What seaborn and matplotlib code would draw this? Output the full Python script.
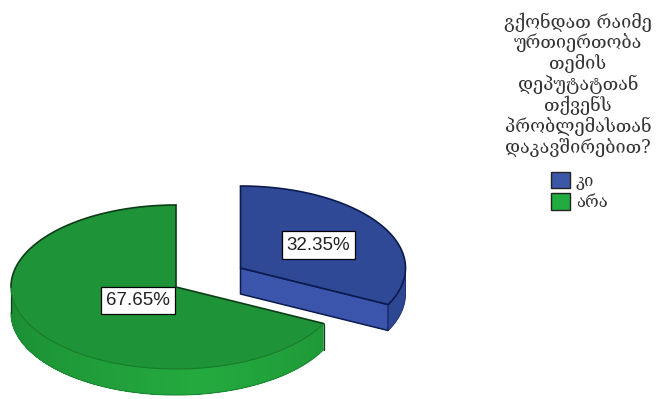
import matplotlib
matplotlib.use('Agg')
import matplotlib.pyplot as plt
import matplotlib.patches as mpatches
import numpy as np
import seaborn as sns

# მონაცემები
categories = ['კი', 'არა']
shares = [32.35, 67.65]
title_lines = ['გქონდათ რაიმე', 'ურთიერთობა', 'თემის', 'დეპუტატთან',
               'თქვენს', 'პრობლემასთან', 'დაკავშირებით?']

sns.set_theme(style='white')
plt.rcParams['font.family'] = ['DejaVu Serif']

RX, RY, DEPTH = 165, 82, 26
EDGE_BLUE = '#0c1a4d'
EDGE_GREEN = '#0c3d18'


def pt(cx, cy, ang, dz=0):
    # ang en grados, horario desde las 12
    a = np.radians(ang)
    return cx + RX * np.sin(a), cy - RY * np.cos(a) + dz


def arc(cx, cy, a0, a1, dz=0):
    t = np.linspace(a0, a1, 120)
    return pt(cx, cy, t, dz)


def blend(c0, c1, f):
    return tuple((1 - f) * np.array(matplotlib.colors.to_rgb(c0)) + f * np.array(matplotlib.colors.to_rgb(c1)))


fig = plt.figure(figsize=(6.62, 3.99), dpi=100)
ax = fig.add_axes([0, 0, 1, 1])
ax.set_xlim(0, 662)
ax.set_ylim(399, 0)
ax.axis('off')

split = shares[0] / sum(shares) * 360

# ── Porción verde ────────────────────────────────────────────────────
cx, cy = 176, 287
steps = np.linspace(split, 270, 60)
for i in range(len(steps) - 1):
    # cada tramo llega hasta el final para que no queden rayas
    x, y = arc(cx, cy, steps[i], 270)
    f = abs((steps[i] - 170) / 100)
    col = blend('#23aa3e', '#1b8a33', min(f, 1))
    ax.fill(np.r_[x, x[::-1]], np.r_[y, y[::-1] + DEPTH], color=col, lw=0, zorder=2)
x, y = arc(cx, cy, split, 270)
ax.plot(x, y + DEPTH, color='#1c8a34', lw=0.8, zorder=3)
x0, y0 = pt(cx, cy, split)
ax.plot([x0, x0], [y0, y0 + DEPTH], color=EDGE_GREEN, lw=0.9, zorder=3)
x2, y2 = pt(cx, cy, 270)
ax.plot([x2, x2], [y2, y2 + DEPTH], color=EDGE_GREEN, lw=0.9, zorder=3)

x, y = arc(cx, cy, split, 360)
ax.fill(np.r_[cx, x], np.r_[cy, y], color='#1f9337', lw=0, zorder=4)
ax.plot(*arc(cx, cy, split, 270), color='#1a7a2e', lw=0.8, zorder=5)
ax.plot(*arc(cx, cy, 270, 360), color=EDGE_GREEN, lw=1.2, zorder=5)
ax.plot([x0, cx, cx], [y0, cy, cy - RY], color=EDGE_GREEN, lw=1.2, zorder=5)

# ── Porción azul ─────────────────────────────────────────────────────
bx, by = 240.5, 268
x0, y0 = pt(bx, by, split)
ax.fill([bx, x0, x0, bx], [by, y0, y0 + DEPTH, by + DEPTH], color='#3b55ad',
        ec=EDGE_BLUE, lw=1.1, zorder=6)
x, y = arc(bx, by, 90, split)
ax.fill(np.r_[x, x[::-1]], np.r_[y, y[::-1] + DEPTH], facecolor='#2e4792',
        edgecolor='#1d3070', lw=0.7, zorder=6)
x, y = arc(bx, by, 0, split)
ax.fill(np.r_[bx, x], np.r_[by, y], facecolor='#2f4997', edgecolor=EDGE_BLUE, lw=1.2, zorder=7)

# ── Etiquetas ────────────────────────────────────────────────────────
label_pos = [(318.5, 245), (138, 300.5)]
for share, (lx, ly) in zip(shares, label_pos):
    ax.text(lx, ly, f'{share:.2f}%', family='Liberation Sans', fontsize=13.5, color='#222222',
            ha='center', va='center', zorder=10,
            bbox=dict(boxstyle='square,pad=0.27', fc='white', ec='black', lw=0.9))

# ── Leyenda ──────────────────────────────────────────────────────────
for i, line in enumerate(title_lines):
    ax.text(578, 22 + i * 20.9, line, fontsize=13, color='#333333', ha='center', va='center')

handles = [mpatches.Patch(facecolor=c, edgecolor='#222222', lw=1.0) for c in ['#3a57a8', '#22ab3f']]
ax.legend(handles, categories, loc='upper left', bbox_to_anchor=(551 / 662, 1 - 172 / 399),
          frameon=False, fontsize=12, handlelength=1.14, handleheight=1.14, borderpad=0,
          borderaxespad=0, handletextpad=0.35, labelspacing=0.2, labelcolor='#333333')

fig.savefig('out.png', dpi=100)
